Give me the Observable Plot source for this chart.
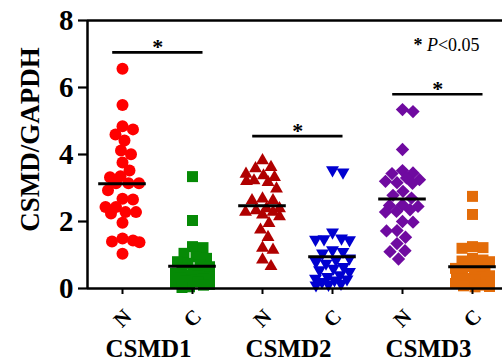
<!DOCTYPE html>
<html>
<head>
<meta charset="utf-8">
<script src="https://cdn.jsdelivr.net/npm/d3@7"></script>
<script src="https://cdn.jsdelivr.net/npm/@observablehq/plot@0.6"></script>
<style>
  html, body { margin: 0; padding: 0; background: #fff; overflow: hidden; }
  #chart { width: 502px; height: 362px; }
</style>
</head>
<body>
<div id="chart"></div>
<script>
// ---------- data ----------
const groups = ["CSMD1", "CSMD2", "CSMD3"];
const tissues = ["N", "C"];
const xTickLabels = ["N", "C", "N", "C", "N", "C"];
const yTicks = [0, 2, 4, 6, 8];

const csmd1N = [6.56, 5.48, 4.84, 4.75, 4.6, 4.42, 4.12, 4.01, 3.76, 3.52, 3.35, 3.32, 3.14, 3.14, 3.14,
  2.93, 2.68, 2.66, 2.43, 2.43, 2.28, 2.28, 2.24, 1.96, 1.49, 1.43, 1.4, 1.38, 1.04];
const csmd1C = [3.34, 2.03, 1.25, 1.22, 1.05, 0.95, 0.9, 0.8, 0.75, 0.7, 0.65, 0.6, 0.55, 0.5, 0.45,
  0.4, 0.38, 0.35, 0.3, 0.28, 0.25, 0.22, 0.2, 0.15, 0.12, 0.1, 0.05, 0.03];
const csmd2N = [3.82, 3.62, 3.58, 3.42, 3.37, 3.32, 3.22, 3.2, 3.17, 2.98, 2.68, 2.63, 2.63, 2.39, 2.39,
  2.33, 2.28, 2.28, 2.2, 2.15, 1.95, 1.75, 1.53, 1.21, 1.15, 0.86, 0.66];
const csmd2C = [3.54, 3.47, 1.68, 1.5, 1.48, 1.46, 1.45, 1.15, 1.1, 1.05, 0.9, 0.85, 0.8, 0.75, 0.65,
  0.6, 0.55, 0.5, 0.4, 0.35, 0.3, 0.28, 0.25, 0.2, 0.15, 0.12, 0.1];
const csmd3N = [5.34, 5.28, 4.15, 3.52, 3.45, 3.43, 3.3, 3.25, 3.2, 3.16, 3.14, 2.9, 2.78, 2.7, 2.5,
  2.48, 2.45, 2.35, 2.3, 2.28, 2.0, 1.98, 1.73, 1.72, 1.53, 1.34, 1.13, 1.1, 0.88];
const csmd3C = [2.75, 2.21, 1.25, 1.22, 1.2, 0.9, 0.85, 0.82, 0.8, 0.7, 0.65, 0.6, 0.55, 0.5, 0.45,
  0.4, 0.38, 0.35, 0.3, 0.28, 0.25, 0.2, 0.15, 0.12, 0.1, 0.08, 0.06, 0.05];
const sigHeights = [7.05, 4.55, 5.8];   // height of each significance bar (y units)

// ---------- styles / layout ----------
const seriesValues = [csmd1N, csmd1C, csmd2N, csmd2C, csmd3N, csmd3C];
const colors = ["#ff0000", "#068a06", "#b00000", "#0000d0", "#6f0aa0", "#e36c09"];
const triangleDown = {
  draw(context, size) {
    const y = -Math.sqrt(size / (Math.sqrt(3) * 3));
    context.moveTo(0, -y * 2);
    context.lineTo(-Math.sqrt(3) * y, y);
    context.lineTo(Math.sqrt(3) * y, y);
    context.closePath();
  }
};
const symbols = ["circle", "square", "triangle", triangleDown, "diamond2", "square"];
const radii = [6, 6.2, 4.8, 4.8, 6, 6.2];
const FONT = "Liberation Serif";

const W = 502, H = 362;
const xDomain = [-0.5, 5.5], xRange = [87, 507];
const yDomain = [0, 8], yRange = [288, 20];
const ys = d3.scaleLinear(yDomain, yRange);
const pxPerUnit = (xRange[1] - xRange[0]) / (xDomain[1] - xDomain[0]);

// column-scatter layout (horizontal spread computed from values)
function spread(values, minDist, maxOff) {
  const order = values.map((v, i) => i).sort((a, b) => values[b] - values[a]);
  const placed = [];
  const offs = new Array(values.length);
  const cands = [0];
  for (let s = 0.5; s <= maxOff; s += 0.5) cands.push(s, -s);
  for (const i of order) {
    const py = ys(values[i]);
    let best = 0, bestD = -1;
    for (const c of cands) {
      let md = Infinity;
      for (const p of placed) md = Math.min(md, Math.hypot(p[0] - c, p[1] - py));
      if (md >= minDist) { best = c; bestD = md; break; }
      if (md > bestD) { bestD = md; best = c; }
    }
    placed.push([best, py]);
    offs[i] = best;
  }
  return offs;
}

const points = [];
seriesValues.forEach((vals, k) => {
  const offs = spread(vals, 10.5, 17);
  vals.forEach((v, i) => points.push({k, v, x: k + offs[i] / pxPerUnit}));
});

const means = seriesValues.map((vals, k) => ({k, m: d3.mean(vals)}));
const sigs = groups.map((g, i) => ({g, y: sigHeights[i], x1: 2 * i - 0.14, x2: 2 * i + 1 + 0.15}));

const dotMarks = seriesValues.map((vals, k) =>
  Plot.dot(points.filter(p => p.k === k), {
    x: "x", y: "v", fill: colors[k], symbol: symbols[k], r: radii[k]
  })
);

const plot = Plot.plot({
  width: W, height: H,
  marginLeft: 87, marginRight: 0, marginTop: 20, marginBottom: 74,
  style: {fontFamily: FONT, background: "#fff", color: "#000"},
  x: {domain: xDomain, range: xRange, axis: null},
  y: {domain: yDomain, range: yRange, axis: null},
  marks: [
    ...dotMarks,
    Plot.ruleY(means, {y: "m", x1: d => d.k - 0.34, x2: d => d.k + 0.34, stroke: "#000", strokeWidth: 3}),
    Plot.ruleX([xDomain[0]], {stroke: "#000", strokeWidth: 2.5}),
    Plot.ruleY([0, 8], {stroke: "#000", strokeWidth: 2.5}),
    Plot.axisY({ticks: yTicks, tickSize: 9, tickPadding: 5, fontSize: 29, fontWeight: "bold", label: null,
      strokeWidth: 2.2, fontFamily: FONT}),
    Plot.axisX({ticks: [0, 1, 2, 3, 4, 5], tickSize: 6, tickPadding: 0, tickFormat: () => "", label: null, strokeWidth: 2}),
    Plot.text(xTickLabels, {x: (d, i) => i, frameAnchor: "bottom", lineAnchor: "middle", dy: 30, rotate: -45,
      text: d => d, fontSize: 21, fontWeight: "bold", fontFamily: FONT}),
    Plot.text(groups, {x: (d, i) => 2 * i + 0.5, frameAnchor: "bottom", lineAnchor: "middle", dy: 60, dx: -9,
      text: d => d, fontSize: 25, fontWeight: "bold", fontFamily: FONT}),
    Plot.text(["CSMD/GAPDH"], {frameAnchor: "left", textAnchor: "middle", y: 4, dx: -57, dy: -15, rotate: -90,
      text: d => d, fontSize: 27, fontWeight: "bold", fontFamily: FONT}),
    Plot.ruleY(sigs, {y: "y", x1: "x1", x2: "x2", stroke: "#000", strokeWidth: 2.6}),
    Plot.text(sigs, {x: d => (d.x1 + d.x2) / 2, y: "y", text: () => "*", dy: -5, fontSize: 22, fontWeight: "bold",
      fontFamily: FONT}),
    Plot.text(["* P<0.05"], {frameAnchor: "top-right", textAnchor: "middle", dx: -56, dy: 18, text: d => d,
      fontSize: 18, fontFamily: FONT, className: "pval"})
  ]
});

// rich text for the p-value note
d3.select(plot).selectAll(".pval text").each(function () {
  const t = d3.select(this);
  t.text(null);
  t.append("tspan").attr("font-weight", "bold").text("* ");
  t.append("tspan").attr("font-style", "italic").text("P");
  t.append("tspan").text("<0.05");
});

document.getElementById("chart").appendChild(plot);
</script>
</body>
</html>
